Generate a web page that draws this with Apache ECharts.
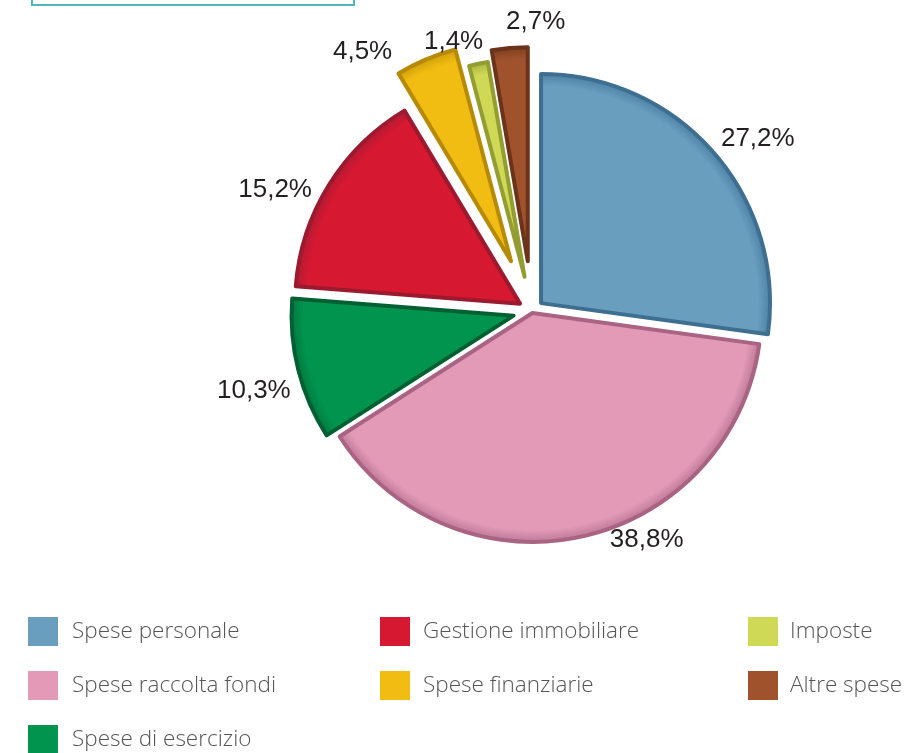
<!DOCTYPE html>
<html>
<head>
<meta charset="utf-8">
<script src="https://cdn.jsdelivr.net/npm/echarts@6/dist/echarts.min.js"></script>
<style>
html,body{margin:0;padding:0;background:#fff;}
#chart{width:909px;height:753px;}
</style>
</head>
<body>
<div id="chart"></div>
<script>
// ---- data ----
var categories = ['Spese personale', 'Spese raccolta fondi', 'Spese di esercizio', 'Gestione immobiliare', 'Spese finanziarie', 'Imposte', 'Altre spese'];
var values = [27.2, 38.8, 10.3, 15.2, 4.5, 1.4, 2.7];
var legendCol1 = ['Spese personale', 'Spese raccolta fondi', 'Spese di esercizio'];
var legendCol2 = ['Gestione immobiliare', 'Spese finanziarie'];
var legendCol3 = ['Imposte', 'Altre spese'];

// ---- styles ----
var colors = ['#6a9ebf', '#e29ab7', '#00944f', '#d71831', '#f2bd12', '#cfd955', '#a0522c'];
var rimColors = ['#4f83a6', '#be7a99', '#007a40', '#b51a33', '#cfa00a', '#aab53e', '#7f3f20'];
var deepColors = ['#3f6f90', '#a96383', '#006032', '#9c1a30', '#b68a06', '#939d32', '#6b331a'];
var radii = [229, 229, 222, 225, 219, 218, 214];
var offsets = [12, 2, 19, 14, 54, 35, 50];
var labelShift = [[-4, -4], [25, -11], [7, 17], [-4, 12], [-28, 6], [8, -7], [57, -11]];
var CX = 532, CY = 311;

function fmt(v) { return v.toFixed(1).replace('.', ',') + '%'; }

function fillFor(i, r) {
  return {
    type: 'radial', x: CX, y: CY, r: r, global: true,
    colorStops: [
      { offset: 0, color: colors[i] },
      { offset: (r - 12) / r, color: colors[i] },
      { offset: 1, color: rimColors[i] }
    ]
  };
}

var series = categories.map(function (name, k) {
  var vis = function (i) { return i === k; };
  return {
    type: 'pie',
    center: [CX, CY],
    radius: [0, radii[k]],
    startAngle: 90,
    clockwise: true,
    silent: true,
    animation: false,
    avoidLabelOverlap: false,
    selectedMode: 'multiple',
    selectedOffset: offsets[k],
    emphasis: { disabled: true },
    labelLine: { show: false, length: 15, length2: 0 },
    labelLayout: { dx: labelShift[k][0], dy: labelShift[k][1] },
    data: categories.map(function (n, i) {
      var style = vis(i)
        ? { color: fillFor(i, radii[k]), borderColor: deepColors[i], borderWidth: 4, borderJoin: 'round' }
        : { color: 'rgba(0,0,0,0)', borderWidth: 0 };
      return {
        name: n,
        value: values[i],
        selected: vis(i),
        itemStyle: style,
        select: { itemStyle: style },
        label: vis(i) ? {
          show: true,
          position: 'outside',
          distanceToLabelLine: 0,
          formatter: function (p) { return fmt(p.value); },
          fontFamily: 'Liberation Sans, Arial, sans-serif',
          fontSize: 26,
          color: '#231f20'
        } : { show: false }
      };
    })
  };
});

function legendData(list) {
  return list.map(function (n) {
    var i = categories.indexOf(n);
    return { name: n, icon: 'rect', itemStyle: { color: colors[i], borderWidth: 0 } };
  });
}
function makeLegend(list, left, textGap) {
  return {
    orient: 'vertical',
    left: left,
    top: 617,
    height: 200,
    padding: 0,
    itemWidth: 30,
    itemHeight: 29,
    itemGap: 25,
    selectedMode: false,
    data: legendData(list),
    textStyle: {
      fontFamily: 'Open Sans, Roboto, Liberation Sans, sans-serif',
      fontWeight: 300,
      fontSize: 22.5,
      color: '#555555',
      padding: [0, 0, 0, textGap]
    }
  };
}

var chart = echarts.init(document.getElementById('chart'), null, { renderer: 'canvas' });
chart.setOption({
  backgroundColor: '#ffffff',
  animation: false,
  legend: [makeLegend(legendCol1, 28, 9), makeLegend(legendCol2, 380, 8), makeLegend(legendCol3, 748, 7)],
  graphic: [{
    type: 'rect',
    shape: { x: 32, y: -10, width: 322, height: 15 },
    style: { fill: 'none', stroke: '#4db8b6', lineWidth: 2 },
    silent: true
  }],
  series: series
});
</script>
</body>
</html>
